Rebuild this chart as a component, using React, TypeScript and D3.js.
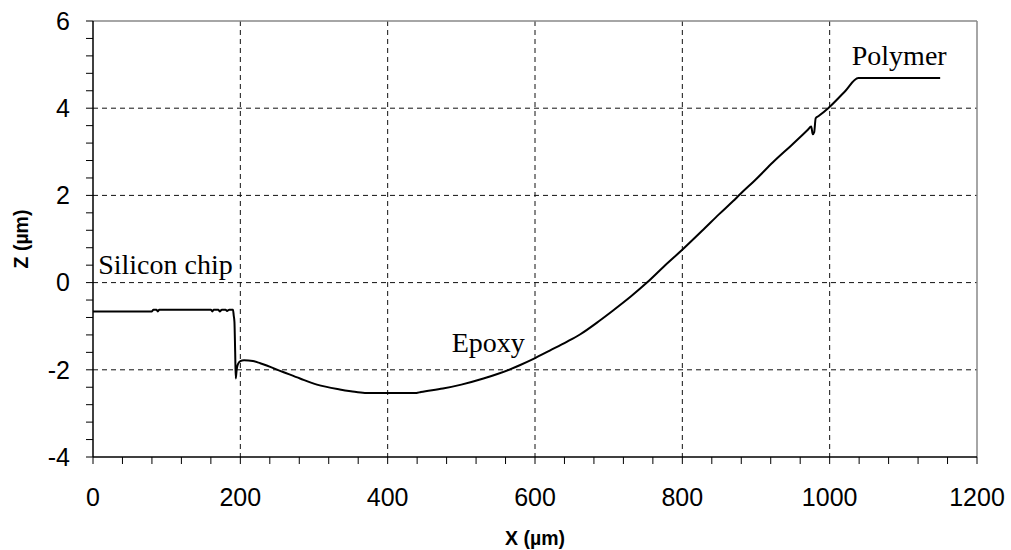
import React from "react";
import * as d3 from "d3";

const xValues: number[] = [
  0, 80, 82, 86, 88, 90, 160, 162, 164, 170, 172, 175, 180, 182, 185, 190,
  191, 192, 193, 193.8, 195, 196.5, 200, 205, 217, 227, 258, 281, 304, 335,
  350, 369, 380, 439, 445, 475, 500, 530, 550, 566, 580, 598, 620, 643, 661,
  688, 706, 730, 752, 775, 801, 830, 850, 869, 878, 900, 923, 950, 970, 975,
  977, 979, 981, 985, 998, 1020, 1039, 1150,
];
const zValues: number[] = [
  -0.66, -0.66, -0.62, -0.62, -0.66, -0.62, -0.62, -0.66, -0.62, -0.62, -0.66,
  -0.62, -0.62, -0.65, -0.62, -0.62, -0.75, -0.9, -1.6, -2.2, -2.0, -1.88,
  -1.8, -1.78, -1.8, -1.85, -2.05, -2.2, -2.34, -2.45, -2.49, -2.53, -2.53,
  -2.53, -2.51, -2.43, -2.34, -2.2, -2.09, -1.99, -1.89, -1.75, -1.56, -1.36,
  -1.19, -0.87, -0.64, -0.32, 0.0, 0.37, 0.77, 1.24, 1.57, 1.87, 2.02, 2.37,
  2.76, 3.18, 3.5, 3.58, 3.4, 3.45, 3.77, 3.82, 4.0, 4.37, 4.69, 4.69,
];
const xTicks: number[] = [0, 200, 400, 600, 800, 1000, 1200];
const yTicks: number[] = [-4, -2, 0, 2, 4, 6];
const labels: { text: string; x: number; z: number }[] = [
  { text: "Silicon chip", x: 7, z: 0.2 },
  { text: "Epoxy", x: 487, z: -1.59 },
  { text: "Polymer", x: 1030, z: 5.0 },
];

const W = 1011;
const H = 550;
const left = 93;
const right = 977;
const top = 21;
const bottom = 457;

export default function App() {
  const x = d3.scaleLinear().domain([0, 1200]).range([left, right]);
  const y = d3.scaleLinear().domain([-4, 6]).range([bottom, top]);
  const data = xValues.map((v, i) => [v, zValues[i]] as [number, number]);
  const line = d3
    .line<[number, number]>()
    .x((d) => x(d[0]))
    .y((d) => y(d[1]))
    .curve(d3.curveMonotoneX);

  const xMinor = d3.range(0, 1200.001, 40);
  const yMinor = d3.range(-4, 6.001, 0.4);
  const sans = "'Liberation Sans', Arial, sans-serif";
  const serif = "'Liberation Serif', 'Times New Roman', serif";

  return (
    <div>
      <style>{"body{margin:0}"}</style>
      <svg width={W} height={H} style={{ display: "block", background: "#fff" }}>
        {xTicks.slice(1, -1).map((t) => (
          <line key={"gx" + t} x1={x(t)} x2={x(t)} y1={top} y2={bottom}
            stroke="#111" strokeWidth={1} strokeDasharray="5,4" />
        ))}
        {yTicks.slice(1, -1).map((t) => (
          <line key={"gy" + t} x1={left} x2={right} y1={y(t)} y2={y(t)}
            stroke="#111" strokeWidth={1} strokeDasharray="5,4" />
        ))}
        <line x1={left} x2={right} y1={top} y2={top} stroke="#888" strokeWidth={1.5} />
        <line x1={right} x2={right} y1={top} y2={bottom} stroke="#888" strokeWidth={1.5} />
        <line x1={left} x2={left} y1={top} y2={bottom} stroke="#000" strokeWidth={1.5} />
        <line x1={left} x2={right} y1={bottom} y2={bottom} stroke="#000" strokeWidth={1.5} />
        {xMinor.map((t) => (
          <line key={"xt" + t} x1={x(t)} x2={x(t)} y1={bottom} y2={bottom + 7}
            stroke="#000" strokeWidth={1} />
        ))}
        {yMinor.map((t) => (
          <line key={"yt" + t} x1={left - 7} x2={left} y1={y(t)} y2={y(t)}
            stroke="#000" strokeWidth={1} />
        ))}
        {xTicks.map((t) => (
          <text key={"xl" + t} x={x(t)} y={506} textAnchor="middle"
            fontFamily={sans} fontSize={25} fill="#000">{t}</text>
        ))}
        {yTicks.map((t) => (
          <text key={"yl" + t} x={70} y={y(t)} dy="0.35em" textAnchor="end"
            fontFamily={sans} fontSize={25} fill="#000">{t}</text>
        ))}
        <text x={(left + right) / 2} y={545} textAnchor="middle" fontFamily={sans}
          fontSize={19.5} fontWeight="bold">X (µm)</text>
        <text transform={`translate(28,${(top + bottom) / 2}) rotate(-90)`} textAnchor="middle"
          fontFamily={sans} fontSize={19.5} fontWeight="bold">Z (µm)</text>
        <path d={line(data) || ""} fill="none" stroke="#000" strokeWidth={2} strokeLinejoin="round" />
        {labels.map((l) => (
          <text key={l.text} x={x(l.x)} y={y(l.z)} fontFamily={serif} fontSize={28} fill="#000">
            {l.text}
          </text>
        ))}
      </svg>
    </div>
  );
}
